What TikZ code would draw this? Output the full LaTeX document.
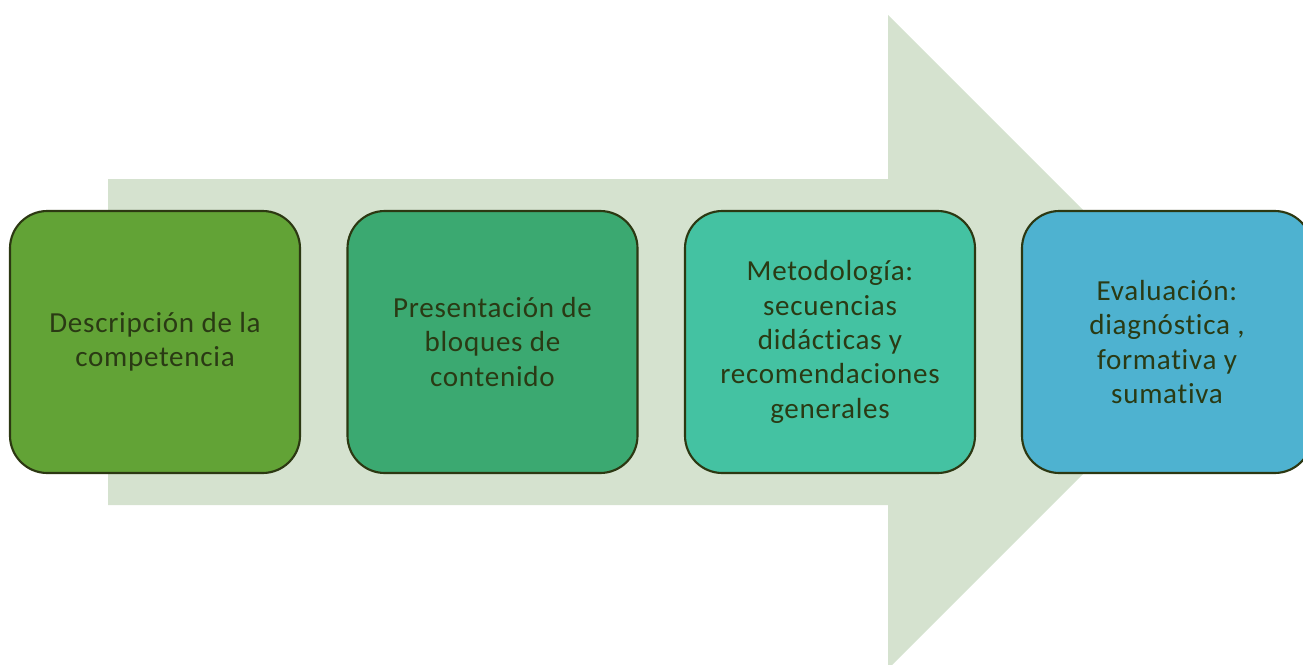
\documentclass[tikz,border=0pt]{standalone}
\usepackage{fontspec}
\setmainfont{Carlito}[Ligatures=NoCommon, LetterSpace=2.5]
\definecolor{arrowfill}{HTML}{D5E2CF}
\definecolor{edgecol}{HTML}{2C3812}
\definecolor{txtcol}{HTML}{2A3A14}
\definecolor{boxA}{HTML}{62A336}
\definecolor{boxB}{HTML}{3BA971}
\definecolor{boxC}{HTML}{44C2A2}
\definecolor{boxD}{HTML}{4EB2D0}
\tikzset{
  stagebox/.style={draw=edgecol, line width=1.6pt, rectangle, rounded corners=28pt,
    minimum width=217.5pt, minimum height=196.5pt, align=center, text=txtcol,
    font=\fontsize{21.8pt}{25.8pt}\selectfont, inner sep=2pt}
}
\begin{document}
\begin{tikzpicture}[x=0.75pt,y=-0.75pt]
\useasboundingbox (0,0) rectangle (1303,664);
\fill[arrowfill] (108,179) -- (888,179) -- (888,15) -- (1215,342) -- (888,669) -- (888,505) -- (108,505) -- cycle;
\node[stagebox, fill=boxA] (b1) at (155,342) {Descripción de la\\competencia};
\node[stagebox, fill=boxB] (b2) at (492.5,342) {Presentación de\\bloques de\\contenido};
\node[stagebox, fill=boxC] (b3) at (830,342) {Metodología:\\secuencias\\didácticas y\\recomendaciones\\generales};
\node[stagebox, fill=boxD] (b4) at (1167,342) {Evaluación:\\diagnóstica ,\\formativa y\\sumativa};
\end{tikzpicture}
\end{document}
